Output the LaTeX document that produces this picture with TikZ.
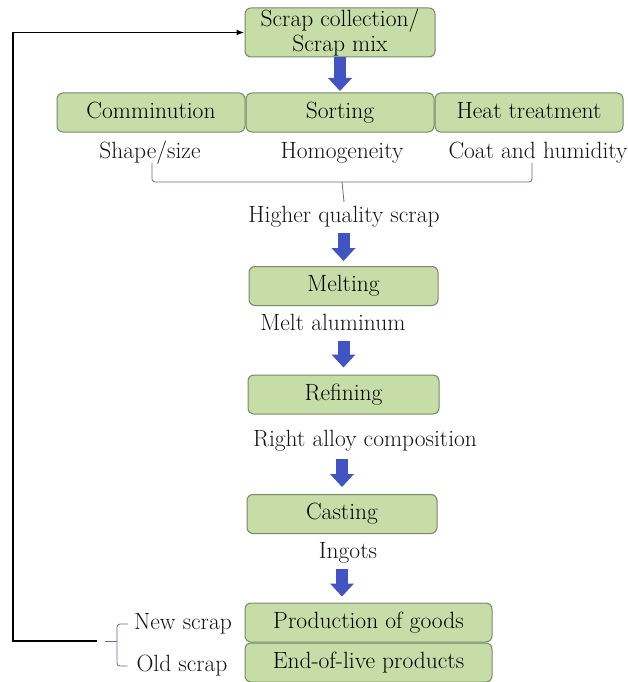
\documentclass[tikz,border=0pt]{standalone}
\usetikzlibrary{arrows.meta}

\definecolor{boxfill}{RGB}{198,221,168}
\definecolor{boxedge}{RGB}{118,138,104}
\definecolor{flowblue}{RGB}{66,84,196}
\definecolor{bracegray}{RGB}{96,104,150}
\definecolor{notegray}{RGB}{20,20,20}

\tikzset{
  boxbase/.style={draw=boxedge, fill=boxfill, line width=1pt, rounded corners=6pt, inner sep=0pt, font=\fontsize{23.5}{25}\selectfont, text=black},
  stagebox/.style={boxbase, minimum height=39pt, text height=16pt, text depth=5pt},
  note/.style={inner sep=0pt, font=\fontsize{23.5}{25}\selectfont, text=notegray, text height=16pt, text depth=5pt},
  flow/.style={draw=flowblue, line width=12pt, -{Triangle[length=13pt,width=24pt,line width=0pt]}},
  bracket/.style={draw=bracegray, line width=0.8pt, rounded corners=3pt},
  loopline/.style={draw=black, line width=1.6pt, -{Latex[length=8pt,width=6pt]}}
}

\begin{document}
\begin{tikzpicture}[x=1pt, y=-1pt]

\useasboundingbox (0,0) rectangle (628,682); % page frame

\node[boxbase, minimum width=190pt, minimum height=49pt, align=center] (collect) at (340,32.5) {Scrap collection/\\Scrap mix}; % Top box

% Pre-treatment row
\node[stagebox, minimum width=188pt] (commin) at (151,112.5) {Comminution};
\node[stagebox, minimum width=188pt] (sorting) at (340,112.5) {Sorting};
\node[stagebox, minimum width=188pt] (heat) at (529,112.5) {Heat treatment};

\node[note] (shape) at (150,152.5) {Shape/size};
\node[note] (homog) at (342,152.5) {Homogeneity};
\node[note] (coat) at (538,152.5) {Coat and humidity};
\node[note] (hq) at (344,216.5) {Higher quality scrap};

% Melting, refining, casting
\node[stagebox, minimum width=189pt] (melt) at (343.5,286) {Melting};
\node[note] (meltal) at (333,324.5) {Melt aluminum};
\node[stagebox, minimum width=191pt] (refine) at (343.5,394.5) {Refining};
\node[note] (alloy) at (365,440.5) {Right alloy composition};
\node[stagebox, minimum width=190pt] (cast) at (342,514) {Casting};
\node[note] (ingots) at (348,553) {Ingots};

% Products
\node[stagebox, minimum width=247pt] (prod) at (368.5,622.5) {Production of goods};
\node[stagebox, minimum width=247pt] (eol) at (368.5,662.5) {End-of-live products};
\node[note] (newsc) at (183,624) {New scrap};
\node[note] (oldsc) at (182,666) {Old scrap};

% Blue flow arrows
\draw[flow, shorten >=1.5pt] (collect) -- (sorting);
\draw[flow, shorten <=5.5pt, shorten >=5pt] (melt.north |- hq.south) -- (melt.north);
\draw[flow, shorten <=5.5pt, shorten >=7pt] (refine.north |- meltal.south) -- (refine.north);
\draw[flow, shorten <=7.5pt, shorten >=7pt] (cast.north |- alloy.south) -- (cast.north);
\draw[flow, shorten <=5.5pt, shorten >=6pt] (cast.south |- ingots.south) -- (cast.south |- prod.north);

% Brace under the row labels
\coordinate (braceline) at (0,182);
\draw[bracket] ([xshift=2pt]shape.south) |- ([xshift=-6pt]coat.south |- braceline) -- ([xshift=-6pt]coat.south);
\draw[bracket] (homog.south |- braceline) -- ([yshift=4pt]hq.north);

% Bracket for new / old scrap
\coordinate (brmid) at (117,641);
\draw[bracket] ([xshift=-6pt]newsc.west) -| (brmid) |- ([xshift=-9pt]oldsc.west);
\draw[bracket] (brmid) -- ++(-12,0);

% Return loop
\coordinate (loopstart) at (97,641);
\coordinate (loopcorner) at (13,641);
\draw[loopline] (loopstart) -- (loopcorner) |- (collect.west);

\end{tikzpicture}
\end{document}
